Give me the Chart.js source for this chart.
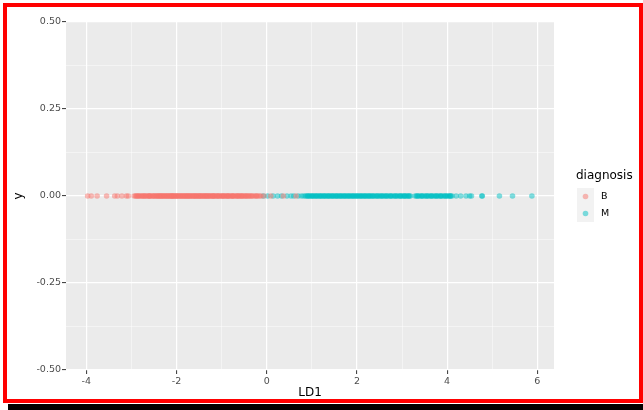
<!DOCTYPE html>
<html>
<head>
<meta charset="utf-8">
<script src="https://cdn.jsdelivr.net/npm/chart.js@4/dist/chart.umd.min.js"></script>
<style>
  html, body { margin: 0; padding: 0; background: #fff; }
  #wrap { position: relative; width: 643px; height: 410px; overflow: hidden; }
  #chart { position: absolute; left: 0; top: 0; }
  #frame { position: absolute; left: 3px; top: 3px; width: 640px; height: 400px;
           box-sizing: border-box; border: 4px solid #ff0000; pointer-events: none; }
  #shadow { position: absolute; left: 8px; top: 404px; right: 0; height: 6px; background: #000; }
</style>
</head>
<body>
<div id="wrap">
  <canvas id="chart" width="643" height="410"></canvas>
  <div id="frame"></div>
  <div id="shadow"></div>
</div>
<script>
// LD1 scores, one array per diagnosis
const ld1B = [-3.97, -3.89, -3.76, -3.55, -3.37, -3.31, -3.21, -3.11, -3.07,
  -2.94, -2.91, -2.89, -2.87, -2.85, -2.83, -2.81, -2.78, -2.76, -2.74, -2.72, -2.70, -2.68,
  -2.66, -2.63, -2.61, -2.60, -2.59, -2.57, -2.54, -2.52, -2.50, -2.49, -2.46, -2.44, -2.43,
  -2.41, -2.39, -2.38, -2.36, -2.35, -2.33, -2.31, -2.30, -2.28, -2.26, -2.25, -2.23, -2.21,
  -2.20, -2.18, -2.16, -2.15, -2.13, -2.11, -2.10, -2.09, -2.08, -2.06, -2.05, -2.03, -2.01,
  -2.00, -1.98, -1.97, -1.95, -1.93, -1.91, -1.90, -1.88, -1.86, -1.85, -1.83, -1.81, -1.80,
  -1.78, -1.76, -1.75, -1.74, -1.72, -1.70, -1.69, -1.67, -1.65, -1.63, -1.62, -1.60, -1.58,
  -1.57, -1.55, -1.54, -1.52, -1.50, -1.49, -1.47, -1.46, -1.44, -1.42, -1.41, -1.39, -1.37,
  -1.36, -1.34, -1.33, -1.31, -1.29, -1.28, -1.26, -1.24, -1.23, -1.20, -1.19, -1.18, -1.16,
  -1.15, -1.12, -1.10, -1.09, -1.07, -1.05, -1.04, -1.01, -0.99, -0.98, -0.96, -0.94, -0.93,
  -0.90, -0.88, -0.87, -0.85, -0.84, -0.82, -0.79, -0.77, -0.76, -0.74, -0.73, -0.70, -0.67,
  -0.66, -0.64, -0.62, -0.61, -0.58, -0.56, -0.55, -0.53, -0.51, -0.48, -0.46, -0.45, -0.42,
  -0.40, -0.38, -0.35, -0.33, -0.31, -0.27, -0.24, -0.22, -0.20, -0.16, -0.13, -0.06, 0.09,
  0.37, 0.65];
const ld1M = [-0.08, 0.02, 0.14, 0.24, 0.33, 0.45, 0.54, 0.60, 0.70, 0.77, 0.82,
  0.86, 0.89, 0.91, 0.93, 0.95, 0.98, 1.00, 1.02, 1.04, 1.07, 1.09, 1.11, 1.13, 1.16, 1.18,
  1.20, 1.22, 1.25, 1.27, 1.29, 1.31, 1.34, 1.36, 1.38, 1.40, 1.43, 1.45, 1.47, 1.49, 1.52,
  1.54, 1.56, 1.58, 1.61, 1.63, 1.65, 1.67, 1.70, 1.72, 1.74, 1.76, 1.79, 1.81, 1.83, 1.85,
  1.88, 1.90, 1.92, 1.94, 1.97, 1.99, 2.01, 2.03, 2.06, 2.08, 2.10, 2.12, 2.15, 2.17, 2.19,
  2.21, 2.24, 2.26, 2.28, 2.30, 2.33, 2.35, 2.37, 2.40, 2.43, 2.45, 2.47, 2.50, 2.53, 2.55,
  2.57, 2.60, 2.63, 2.65, 2.67, 2.70, 2.74, 2.75, 2.77, 2.81, 2.84, 2.86, 2.88, 2.91, 2.95,
  2.96, 2.98, 3.01, 3.04, 3.06, 3.07, 3.10, 3.13, 3.15, 3.16, 3.19,
  3.29, 3.32, 3.34, 3.36, 3.39, 3.43, 3.44, 3.46, 3.50, 3.53, 3.55, 3.57, 3.60, 3.64, 3.65,
  3.67, 3.71, 3.74, 3.76, 3.78, 3.81, 3.85, 3.86, 3.88, 3.92, 3.95, 3.97, 3.99, 4.02, 4.05,
  4.07, 4.08, 4.11,
  4.20, 4.30, 4.42, 4.50, 4.54, 4.77, 4.78, 5.16, 5.45, 5.88];

const groups = ['B', 'M'];
const groupColors = ['rgba(248,118,109,0.5)', 'rgba(0,191,196,0.5)'];
const xTickVals = [-4, -3, -2, -1, 0, 1, 2, 3, 4, 5, 6];
const yTickVals = [-0.5, -0.375, -0.25, -0.125, 0, 0.125, 0.25, 0.375, 0.5];

const isMajorX = v => v % 2 === 0;
const isMajorY = v => Math.abs((v * 4) - Math.round(v * 4)) < 1e-9;

// grey panel like ggplot's theme_gray
const panelBg = {
  id: 'panelBg',
  beforeDraw(chart) {
    const { ctx, chartArea: a } = chart;
    ctx.save();
    ctx.fillStyle = '#ebebeb';
    ctx.fillRect(a.left, a.top, a.right - a.left, a.bottom - a.top);
    ctx.restore();
  }
};

// legend drawn to the right of the panel
const sideLegend = {
  id: 'sideLegend',
  afterDraw(chart) {
    const ctx = chart.ctx;
    ctx.save();
    ctx.font = '12px "DejaVu Sans"';
    ctx.fillStyle = '#000';
    ctx.textBaseline = 'middle';
    ctx.fillText('diagnosis', 576, 176);
    groups.forEach((g, i) => {
      const top = 188 + i * 17;
      ctx.fillStyle = '#f2f2f2';
      ctx.fillRect(577, top, 17, 17);
      ctx.beginPath();
      ctx.arc(585.5, top + 8.5, 2.8, 0, Math.PI * 2);
      ctx.fillStyle = groupColors[i];
      ctx.fill();
      ctx.fillStyle = '#000';
      ctx.font = '9.5px "DejaVu Sans"';
      ctx.fillText(g, 601, top + 8.5);
    });
    ctx.restore();
  }
};

const ctx = document.getElementById('chart').getContext('2d');
new Chart(ctx, {
  type: 'scatter',
  data: {
    datasets: [
      { label: 'B', data: ld1B.map(v => ({ x: v, y: 0 })), backgroundColor: groupColors[0] },
      { label: 'M', data: ld1M.map(v => ({ x: v, y: 0 })), backgroundColor: groupColors[1] }
    ]
  },
  options: {
    responsive: false,
    animation: false,
    events: [],
    elements: { point: { radius: 2.8, borderWidth: 0, hoverRadius: 2.8 } },
    layout: { padding: { left: 0, top: 22, right: 89, bottom: 0 } },
    plugins: { legend: { display: false }, tooltip: { enabled: false } },
    scales: {
      x: {
        type: 'linear',
        min: -4.45,
        max: 6.37,
        afterFit(scale) { scale.height = 40; },
        afterBuildTicks(scale) { scale.ticks = xTickVals.map(v => ({ value: v })); },
        border: { display: false },
        grid: {
          color: c => isMajorX(c.tick.value) ? '#ffffff' : 'rgba(255,255,255,0.75)',
          lineWidth: c => isMajorX(c.tick.value) ? 1.2 : 0.6,
          tickLength: 4,
          tickColor: c => isMajorX(c.tick.value) ? '#333333' : 'rgba(0,0,0,0)',
          tickWidth: 1
        },
        ticks: {
          autoSkip: false,
          maxRotation: 0,
          padding: 2,
          color: '#4d4d4d',
          font: { family: 'DejaVu Sans', size: 9.5 },
          callback: v => isMajorX(v) ? String(v) : ''
        },
        title: {
          display: true,
          text: 'LD1',
          color: '#000',
          font: { family: 'DejaVu Sans', size: 12 },
          padding: { top: 0, bottom: 10 }
        }
      },
      y: {
        type: 'linear',
        min: -0.5,
        max: 0.5,
        afterFit(scale) { scale.width = 66; },
        afterBuildTicks(scale) { scale.ticks = yTickVals.map(v => ({ value: v })); },
        border: { display: false },
        grid: {
          color: c => isMajorY(c.tick.value) ? '#ffffff' : 'rgba(255,255,255,0.75)',
          lineWidth: c => isMajorY(c.tick.value) ? 1.2 : 0.6,
          tickLength: 4,
          tickColor: c => isMajorY(c.tick.value) ? '#333333' : 'rgba(0,0,0,0)',
          tickWidth: 1
        },
        ticks: {
          autoSkip: false,
          padding: 1,
          color: '#4d4d4d',
          font: { family: 'DejaVu Sans', size: 9.5 },
          callback: v => isMajorY(v) ? v.toFixed(2) : ''
        },
        title: {
          display: true,
          text: 'y',
          color: '#000',
          font: { family: 'DejaVu Sans', size: 12 },
          padding: { top: 12, bottom: 0 }
        }
      }
    }
  },
  plugins: [panelBg, sideLegend]
});
</script>
</body>
</html>
